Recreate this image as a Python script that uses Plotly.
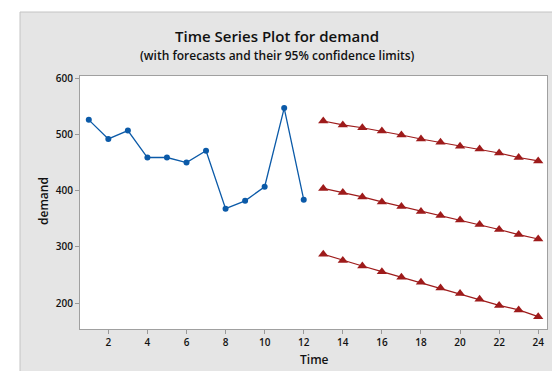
import plotly.graph_objects as go

time_hist = list(range(1, 13))
demand = [526, 492, 507, 459, 459, 450, 471, 368, 382, 407, 547, 384]

time_fc = list(range(13, 25))
upper = [524, 517, 512, 506, 499, 492, 486, 479, 474, 467, 459, 453]
forecast = [404, 397, 389, 380, 372, 363, 356, 348, 340, 331, 322, 314]
lower = [287, 276, 266, 256, 246, 237, 227, 217, 207, 196, 188, 176]

x_ticks = list(range(2, 25, 2))
y_ticks = [200, 300, 400, 500, 600]

BLUE = "#0b5aa8"
RED = "#9e1b1b"
FONT = "Open Sans"

fig = go.Figure()
fig.add_trace(go.Scatter(x=time_hist, y=demand, mode="lines+markers",
                         line=dict(color=BLUE, width=1.3),
                         marker=dict(color=BLUE, size=6, symbol="circle")))
for s in (upper, forecast, lower):
    fig.add_trace(go.Scatter(x=time_fc, y=s, mode="lines+markers",
                             line=dict(color=RED, width=1.2),
                             marker=dict(color=RED, size=9, symbol="triangle-up")))

L, R, T, B = 72, 21, 68, 50
W, H = 560, 371
pw, ph = W - L - R, H - T - B

def px(x):
    return (x - L) / pw

def py(y):
    return (H - B - y) / ph

# white outer strips (left and top) and the frame lines
fig.add_shape(type="rect", xref="paper", yref="paper", layer="above",
              x0=px(-2), x1=px(12), y0=py(373), y1=py(-2),
              fillcolor="white", line=dict(width=0))
fig.add_shape(type="rect", xref="paper", yref="paper", layer="above",
              x0=px(-2), x1=px(562), y0=py(4), y1=py(-2),
              fillcolor="white", line=dict(width=0))
fig.add_shape(type="line", xref="paper", yref="paper", layer="above",
              x0=px(12), x1=px(12), y0=py(373), y1=py(4),
              line=dict(color="#c4c4c4", width=1))
fig.add_shape(type="line", xref="paper", yref="paper", layer="above",
              x0=px(12), x1=px(562), y0=py(4), y1=py(4),
              line=dict(color="#c4c4c4", width=1))

fig.add_annotation(text="Time Series Plot for demand", xref="paper", yref="paper",
                   x=px(269), y=py(28), showarrow=False, xanchor="center", yanchor="middle",
                   font=dict(family=FONT, size=15, weight=600, color="#111111"))
fig.add_annotation(text="(with forecasts and their 95% confidence limits)", xref="paper", yref="paper",
                   x=px(269), y=py(47), showarrow=False, xanchor="center", yanchor="middle",
                   font=dict(family=FONT, size=12, weight=600, color="#111111"))
fig.add_annotation(text="demand", xref="paper", yref="paper",
                   x=px(35), y=py(193), showarrow=False, textangle=-90,
                   xanchor="center", yanchor="middle",
                   font=dict(family=FONT, size=12, weight=600, color="#111111"))
fig.add_annotation(text="Time", xref="paper", yref="paper",
                   x=px(306), y=py(351), showarrow=False, xanchor="center", yanchor="middle",
                   font=dict(family=FONT, size=12, weight=600, color="#111111"))

fig.update_layout(
    width=W, height=H,
    margin=dict(l=L, r=R, t=T, b=B),
    paper_bgcolor="#e5e5e5", plot_bgcolor="white",
    showlegend=False,
    font=dict(family=FONT, color="#111111"),
)
fig.update_xaxes(range=[0.55, 24.45], tickvals=x_ticks, ticks="outside", ticklen=4,
                 tickcolor="#999999", showgrid=False, zeroline=False,
                 showline=True, linecolor="#a0a0a0", mirror=True, linewidth=1,
                 tickfont=dict(family=FONT, size=10, weight=600, color="#111111"))
fig.update_yaxes(range=[154, 604], tickvals=y_ticks, ticks="outside", ticklen=4,
                 tickcolor="#999999", showgrid=False, zeroline=False,
                 showline=True, linecolor="#a0a0a0", mirror=True, linewidth=1,
                 tickfont=dict(family=FONT, size=10, weight=600, color="#111111"))

fig.write_html("out.html")
